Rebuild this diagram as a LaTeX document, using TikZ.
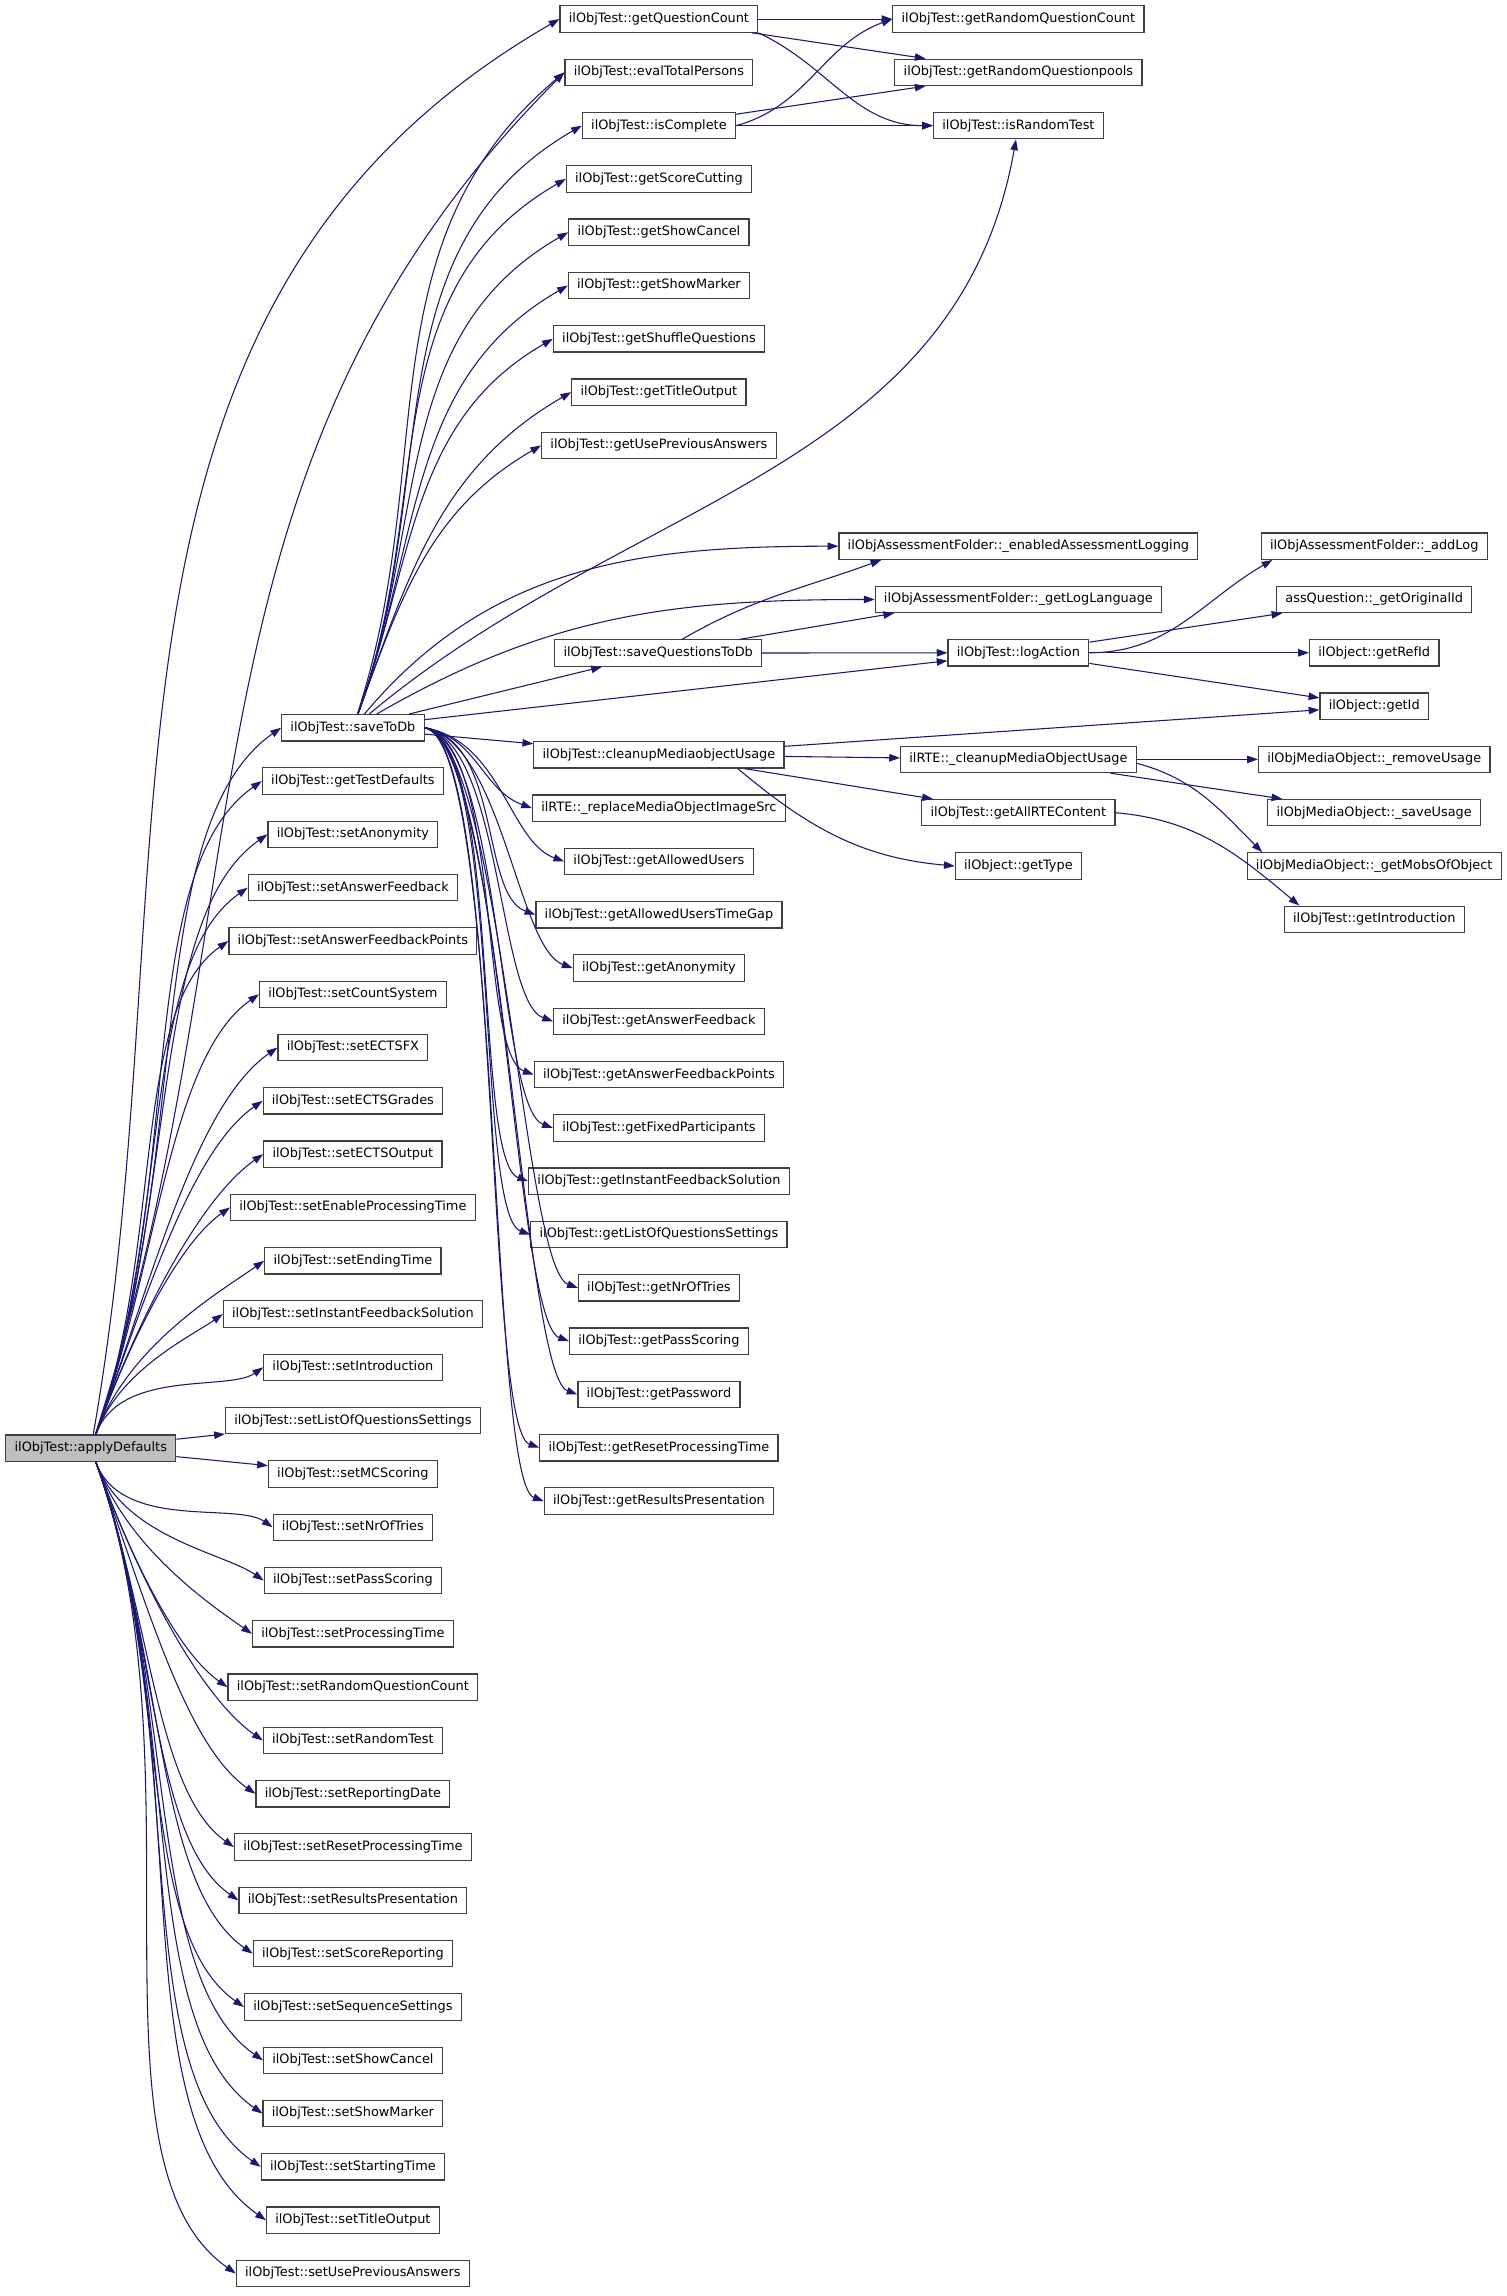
\documentclass[tikz,border=0pt]{standalone}
\usepackage{fontspec}
\setmainfont{DejaVu Sans}
\usetikzlibrary{arrows.meta,positioning}
\definecolor{edgeblue}{RGB}{25,25,112}

\begin{document}
\begin{tikzpicture}[
    x=0.75pt, y=0.75pt,
    node distance=13.2pt,
    fn/.style={rectangle, draw=black!75, line width=0.6pt, minimum height=13.5pt, inner xsep=4.5pt, inner ysep=1pt, text height=5pt, text depth=1.5pt, font=\fontsize{6.6pt}{8pt}\selectfont},
    root/.style={fn, fill=black!25},
    call/.style={->, draw=edgeblue, line width=0.55pt},
    fanup/.style={out=70, in=215, in looseness=0.6},
    fandown/.style={out=-70, in=145, in looseness=0.6},
    dive/.style={out=-10, in=160, out distance=40pt, in distance=30pt},
    >={Triangle[length=5.5pt,width=3.8pt]}
]
\useasboundingbox (0,0) rectangle (1029,-1568);

% caller
\node[root] (apply) at (62,-989) {ilObjTest::applyDefaults};

% first column
\node[fn] (save) at (241,-497) {ilObjTest::saveToDb};
\node[fn, below=of save] (gtd) {ilObjTest::getTestDefaults};
\node[fn, below=of gtd] (sanon) {ilObjTest::setAnonymity};
\node[fn, below=of sanon] (safb) {ilObjTest::setAnswerFeedback};
\node[fn, below=of safb] (safbp) {ilObjTest::setAnswerFeedbackPoints};
\node[fn, below=of safbp] (scount) {ilObjTest::setCountSystem};
\node[fn, below=of scount] (sfx) {ilObjTest::setECTSFX};
\node[fn, below=of sfx] (sgrades) {ilObjTest::setECTSGrades};
\node[fn, below=of sgrades] (soutput) {ilObjTest::setECTSOutput};
\node[fn, below=of soutput] (senable) {ilObjTest::setEnableProcessingTime};
\node[fn, below=of senable] (sending) {ilObjTest::setEndingTime};
\node[fn, below=of sending] (sinstant) {ilObjTest::setInstantFeedbackSolution};
\node[fn, below=of sinstant] (sintro) {ilObjTest::setIntroduction};
\node[fn, below=of sintro] (slist) {ilObjTest::setListOfQuestionsSettings};
\node[fn, below=of slist] (smc) {ilObjTest::setMCScoring};
\node[fn, below=of smc] (snr) {ilObjTest::setNrOfTries};
\node[fn, below=of snr] (spass) {ilObjTest::setPassScoring};
\node[fn, below=of spass] (sproc) {ilObjTest::setProcessingTime};
\node[fn, below=of sproc] (srqc) {ilObjTest::setRandomQuestionCount};
\node[fn, below=of srqc] (srt) {ilObjTest::setRandomTest};
\node[fn, below=of srt] (srep) {ilObjTest::setReportingDate};
\node[fn, below=of srep] (sreset) {ilObjTest::setResetProcessingTime};
\node[fn, below=of sreset] (sresults) {ilObjTest::setResultsPresentation};
\node[fn, below=of sresults] (sscore) {ilObjTest::setScoreReporting};
\node[fn, below=of sscore] (sseq) {ilObjTest::setSequenceSettings};
\node[fn, below=of sseq] (scancel) {ilObjTest::setShowCancel};
\node[fn, below=of scancel] (smarker) {ilObjTest::setShowMarker};
\node[fn, below=of smarker] (sstart) {ilObjTest::setStartingTime};
\node[fn, below=of sstart] (stitle) {ilObjTest::setTitleOutput};
\node[fn, below=of stitle] (suse) {ilObjTest::setUsePreviousAnswers};

% second column
\node[fn] (gqc) at (450,-13) {ilObjTest::getQuestionCount};
\node[fn, below=of gqc] (etp) {ilObjTest::evalTotalPersons};
\node[fn, below=of etp] (iscomp) {ilObjTest::isComplete};
\node[fn, below=of iscomp] (gscore) {ilObjTest::getScoreCutting};
\node[fn, below=of gscore] (gcancel) {ilObjTest::getShowCancel};
\node[fn, below=of gcancel] (gmarker) {ilObjTest::getShowMarker};
\node[fn, below=of gmarker] (gshuffle) {ilObjTest::getShuffleQuestions};
\node[fn, below=of gshuffle] (gtitle) {ilObjTest::getTitleOutput};
\node[fn, below=of gtitle] (guse) {ilObjTest::getUsePreviousAnswers};
\node[fn] (sqdb) at (449.5,-446) {ilObjTest::saveQuestionsToDb};
\node[fn] (cmu) at (450,-515.5) {ilObjTest::cleanupMediaobjectUsage};
\node[fn, below=of cmu] (rmis) {ilRTE::\_replaceMediaObjectImageSrc};
\node[fn, below=of rmis] (gau) {ilObjTest::getAllowedUsers};
\node[fn, below=of gau] (gautg) {ilObjTest::getAllowedUsersTimeGap};
\node[fn, below=of gautg] (ganon) {ilObjTest::getAnonymity};
\node[fn, below=of ganon] (gafb) {ilObjTest::getAnswerFeedback};
\node[fn, below=of gafb] (gafbp) {ilObjTest::getAnswerFeedbackPoints};
\node[fn, below=of gafbp] (gfixed) {ilObjTest::getFixedParticipants};
\node[fn, below=of gfixed] (ginstant) {ilObjTest::getInstantFeedbackSolution};
\node[fn, below=of ginstant] (glist) {ilObjTest::getListOfQuestionsSettings};
\node[fn, below=of glist] (gnr) {ilObjTest::getNrOfTries};
\node[fn, below=of gnr] (gpass) {ilObjTest::getPassScoring};
\node[fn, below=of gpass] (gpwd) {ilObjTest::getPassword};
\node[fn, below=of gpwd] (greset) {ilObjTest::getResetProcessingTime};
\node[fn, below=of greset] (gresults) {ilObjTest::getResultsPresentation};

% third column
\node[fn] (grqc) at (695.5,-13) {ilObjTest::getRandomQuestionCount};
\node[fn, below=of grqc] (grqp) {ilObjTest::getRandomQuestionpools};
\node[fn, below=of grqp] (isrt) {ilObjTest::isRandomTest};
\node[fn] (enlog) at (695.5,-373) {ilObjAssessmentFolder::\_enabledAssessmentLogging};
\node[fn, below=of enlog] (loglang) {ilObjAssessmentFolder::\_getLogLanguage};
\node[fn, below=of loglang] (logact) {ilObjTest::logAction};
\node[fn, below=40.5pt of logact] (rtecmu) {ilRTE::\_cleanupMediaObjectUsage};
\node[fn, below=of rtecmu] (gallrte) {ilObjTest::getAllRTEContent};
\node[fn, below=of gallrte] (gtype) {ilObject::getType};

% fourth column
\node[fn] (addlog) at (938.5,-373) {ilObjAssessmentFolder::\_addLog};
\node[fn, below=of addlog] (origid) {assQuestion::\_getOriginalId};
\node[fn, below=of origid] (refid) {ilObject::getRefId};
\node[fn, below=of refid] (getid) {ilObject::getId};
\node[fn, below=of getid] (remuse) {ilObjMediaObject::\_removeUsage};
\node[fn, below=of remuse] (saveuse) {ilObjMediaObject::\_saveUsage};
\node[fn, below=of saveuse] (mobs) {ilObjMediaObject::\_getMobsOfObject};
\node[fn, below=of mobs] (gintro) {ilObjTest::getIntroduction};

% calls of applyDefaults
\draw[call] (apply) to[out=80, in=210] (gqc.west);
\draw[call] (apply) to[out=72, in=225] (etp.west);
\draw[call] (apply) to[fanup] (save.west);
\draw[call] (apply) to[fanup] (gtd.west);
\draw[call] (apply) to[fanup] (sanon.west);
\draw[call] (apply) to[fanup] (safb.west);
\draw[call] (apply) to[fanup] (safbp.west);
\draw[call] (apply) to[fanup] (scount.west);
\draw[call] (apply) to[fanup] (sfx.west);
\draw[call] (apply) to[fanup] (sgrades.west);
\draw[call] (apply) to[fanup] (soutput.west);
\draw[call] (apply) to[fanup] (senable.west);
\draw[call] (apply) to[fanup] (sending.west);
\draw[call] (apply) to[fanup] (sinstant.west);
\draw[call] (apply) to[fanup] (sintro.west);
\draw[call] (apply) -- (slist);
\draw[call] (apply) -- (smc);
\draw[call] (apply) to[fandown] (snr.west);
\draw[call] (apply) to[fandown] (spass.west);
\draw[call] (apply) to[fandown] (sproc.west);
\draw[call] (apply) to[fandown] (srqc.west);
\draw[call] (apply) to[fandown] (srt.west);
\draw[call] (apply) to[fandown] (srep.west);
\draw[call] (apply) to[fandown] (sreset.west);
\draw[call] (apply) to[fandown] (sresults.west);
\draw[call] (apply) to[fandown] (sscore.west);
\draw[call] (apply) to[fandown] (sseq.west);
\draw[call] (apply) to[fandown] (scancel.west);
\draw[call] (apply) to[fandown] (smarker.west);
\draw[call] (apply) to[fandown] (sstart.west);
\draw[call] (apply) to[fandown] (stitle.west);
\draw[call] (apply) to[fandown] (suse.west);

% calls of saveToDb, upwards
\draw[call] (save) to[out=72, in=220] (etp.west);
\draw[call] (save) to[out=70, in=210] (iscomp.west);
\draw[call] (save) to[out=70, in=210] (gscore.west);
\draw[call] (save) to[out=70, in=210] (gcancel.west);
\draw[call] (save) to[out=70, in=210] (gmarker.west);
\draw[call] (save) to[out=70, in=210] (gshuffle.west);
\draw[call] (save) to[out=70, in=210] (gtitle.west);
\draw[call] (save) to[out=70, in=210] (guse.west);
\draw[call] (save) to[out=40, in=260] (isrt);
\draw[call] (save) to[out=50, in=180] (enlog.west);
\draw[call] (save) to[out=30, in=180] (loglang.west);
\draw[call] (save) -- (sqdb);
\draw[call] (save) -- (logact);
\draw[call] (save) -- (cmu);

% calls of saveToDb, downwards
\draw[call] (save.east) to[out=-10, in=160] (rmis.west);
\draw[call] (save.east) to[dive] (gau.west);
\draw[call] (save.east) to[dive] (gautg.west);
\draw[call] (save.east) to[dive] (ganon.west);
\draw[call] (save.east) to[dive] (gafb.west);
\draw[call] (save.east) to[dive] (gafbp.west);
\draw[call] (save.east) to[dive] (gfixed.west);
\draw[call] (save.east) to[dive] (ginstant.west);
\draw[call] (save.east) to[dive] (glist.west);
\draw[call] (save.east) to[dive] (gnr.west);
\draw[call] (save.east) to[dive] (gpass.west);
\draw[call] (save.east) to[dive] (gpwd.west);
\draw[call] (save.east) to[dive] (greset.west);
\draw[call] (save.east) to[dive] (gresults.west);

% random test checks
\draw[call] (gqc) -- (grqc);
\draw[call] (gqc) -- (grqp);
\draw[call] (gqc.south east) to[out=-25, in=180] (isrt.west);
\draw[call] (iscomp.east) to[out=15, in=200] (grqc.west);
\draw[call] (iscomp) -- (grqp);
\draw[call] (iscomp) -- (isrt);

% logging
\draw[call] (sqdb) to[out=30, in=200] ([xshift=22pt]enlog.south west);
\draw[call] (sqdb) -- ([xshift=10pt]loglang.south west);
\draw[call] (sqdb) -- (logact);
\draw[call] (logact.east) to[out=0, in=210] ([xshift=6pt]addlog.south west);
\draw[call] (logact) -- (origid);
\draw[call] (logact) -- (refid);
\draw[call] (logact) -- (getid);

% media objects
\draw[call] (cmu) -- (getid);
\draw[call] (cmu) -- (rtecmu);
\draw[call] (cmu) -- (gallrte);
\draw[call] ([xshift=-24pt]cmu.south east) to[out=-40, in=175] (gtype.west);
\draw[call] (rtecmu) -- (remuse);
\draw[call] (rtecmu) -- (saveuse);
\draw[call] ([yshift=-2pt]rtecmu.east) to[out=-15, in=135] ([xshift=8pt]mobs.north west);
\draw[call] (gallrte.east) to[out=-5, in=140] ([xshift=8pt]gintro.north west);

\end{tikzpicture}
\end{document}
